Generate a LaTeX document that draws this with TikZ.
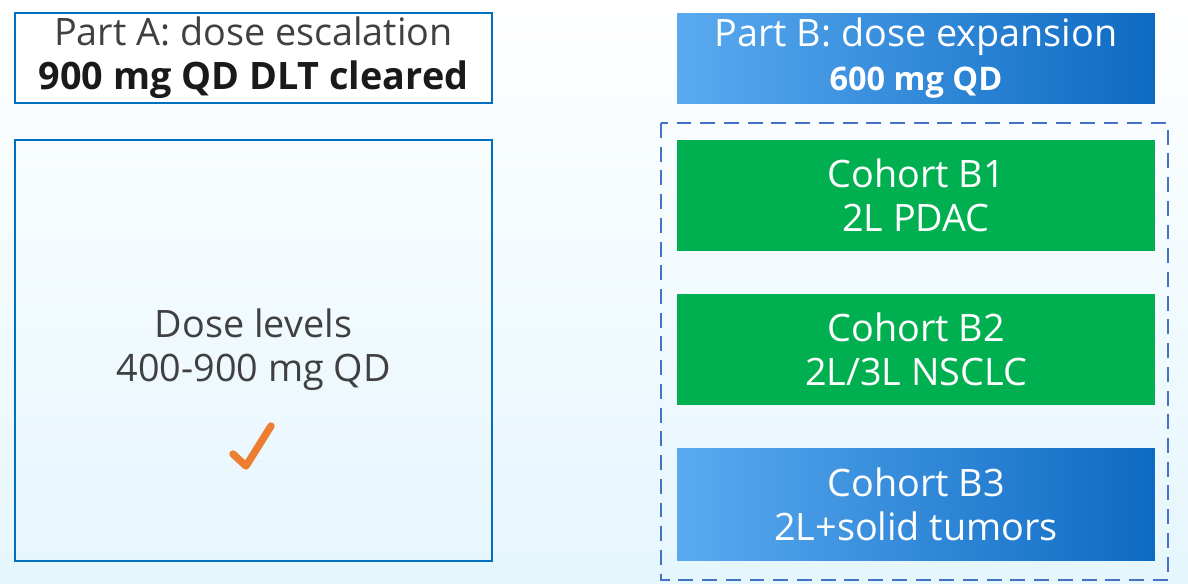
\documentclass[tikz,border=0pt]{standalone}
\usepackage{fontspec}
\setmainfont{Open Sans}
\definecolor{frameblue}{HTML}{0070C0}
\definecolor{dashblue}{HTML}{4472C4}
\definecolor{cohortgreen}{HTML}{00B050}
\definecolor{lightblue}{HTML}{5AAAF0}
\definecolor{deepblue}{HTML}{0D6AC2}
\definecolor{bgcyan}{HTML}{E5F6FD}
\definecolor{textgrey}{HTML}{404040}
\definecolor{textdark}{HTML}{1A1A1A}
\definecolor{tickorange}{HTML}{ED7D31}

\begin{document}
\begin{tikzpicture}[x=0.02cm, y=-0.02cm,
  every node/.style={font=\fontsize{21.5}{25}\selectfont, align=center, inner sep=0pt},
  partbox/.style={draw=frameblue, line width=1.4pt, minimum width=9.54cm, text=textgrey},
  bluebox/.style={left color=lightblue, right color=deepblue, text=white, minimum width=9.56cm},
  greenbox/.style={fill=cohortgreen, text=white, minimum width=9.56cm, minimum height=2.22cm}]
	%%%%% BACKGROUND %%%%%
	\shade[top color=white, bottom color=bgcyan] (0, 0) rectangle (1188, 583);
	\useasboundingbox (0, 0) rectangle (1188, 583);
	
	%%%%% PART A %%%%%
	\node[partbox, fill=white, minimum height=1.8cm] (partA) at (253.5, 58) {Part A: dose escalation\\\textcolor{textdark}{\textbf{900 mg QD DLT cleared}}};
	\node[partbox, minimum height=8.42cm] (levels) at (253.5, 350.5) {};
	\node[text=textgrey] (levelstext) at (253.5, 350) {Dose levels\\400-900 mg QD};
	\draw[tickorange, line width=4.2pt, line cap=round, line join=round] (233, 454) -- (246, 466) -- (271, 426);
	
	%%%%% PART B %%%%%
	\node[bluebox, minimum height=1.8cm] (partB) at (916, 58) {Part B: dose expansion\\{\fontsize{18.5}{22}\selectfont\textbf{600 mg QD}}};
	\draw[dashblue, line width=1.5pt, dash pattern=on 8.5pt off 5pt] (661, 123) rectangle (1168, 580);
	\node[greenbox] (cohortB1) at (916, 195.5) {Cohort B1\\2L PDAC};
	\node[greenbox] (cohortB2) at (916, 349.5) {Cohort B2\\2L/3L NSCLC};
	\node[bluebox, minimum height=2.24cm] (cohortB3) at (916, 504) {Cohort B3\\2L+solid tumors};
\end{tikzpicture}
\end{document}
